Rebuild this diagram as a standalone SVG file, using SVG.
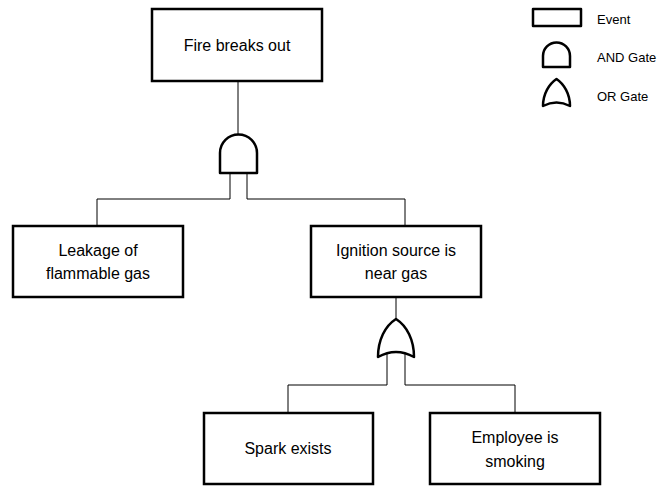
<svg xmlns="http://www.w3.org/2000/svg" width="667" height="488" viewBox="0 0 667 488">
  <style>
    .box { fill: #fff; stroke: #000; stroke-width: 2.5; }
    .gate { fill: #fff; stroke: #000; stroke-width: 2.5; stroke-linejoin: round; }
    .wire { fill: none; stroke: #000; stroke-width: 1; }
    .lbl { font-family: "Liberation Sans", Arial, sans-serif; font-size: 16px; fill: #000; text-anchor: middle; }
    .key { font-family: "Liberation Sans", Arial, sans-serif; font-size: 13px; fill: #000; }
  </style>
  <rect width="667" height="488" fill="#fff"/>

  <!-- connectors -->
  <g id="connectors">
    <path class="wire" d="M238,81 V135"/>
    <path class="wire" d="M230,173 V199 H97 V226"/>
    <path class="wire" d="M247,173 V199 H405 V226"/>
    <path class="wire" d="M396,297 V319"/>
    <path class="wire" d="M387,354 V385 H288 V413"/>
    <path class="wire" d="M405,354 V385 H515 V413"/>
  </g>

  <g id="fire">
    <rect class="box" x="152" y="9" width="170" height="72"/>
    <text class="lbl" x="237" y="51">Fire breaks out</text>
  </g>

  <g id="and-gate">
    <path class="gate" d="M220,173 V153 A18.5,18.5 0 0 1 257,153 V173 Z"/>
  </g>

  <g id="leakage">
    <rect class="box" x="13" y="226" width="170" height="71"/>
    <text class="lbl" x="98" y="256">Leakage of</text>
    <text class="lbl" x="98" y="279">flammable gas</text>
  </g>

  <g id="ignition">
    <rect class="box" x="311" y="226" width="170" height="71"/>
    <text class="lbl" x="396" y="256">Ignition source is</text>
    <text class="lbl" x="396" y="279">near gas</text>
  </g>

  <g id="or-gate">
    <path class="gate" d="M378,357 C378,340 385,326 396,319 C407,326 414,340 414,357 Q396,347 378,357 Z"/>
  </g>

  <g id="spark">
    <rect class="box" x="204" y="413" width="169" height="71"/>
    <text class="lbl" x="288" y="454">Spark exists</text>
  </g>

  <g id="employee">
    <rect class="box" x="430" y="413" width="170" height="71"/>
    <text class="lbl" x="515" y="443">Employee is</text>
    <text class="lbl" x="515" y="467">smoking</text>
  </g>

  <!-- legend -->
  <g id="legend">
    <rect class="gate" x="533" y="9" width="48" height="17"/>
    <text class="key" x="597" y="24">Event</text>
    <path class="gate" d="M543,67 V56 A13.5,13.5 0 0 1 570,56 V67 Z"/>
    <text class="key" x="597" y="62">AND Gate</text>
    <path class="gate" d="M543,106 C543,94 549,84 556.5,79 C564,84 570,94 570,106 Q556.5,99 543,106 Z"/>
    <text class="key" x="597" y="101">OR Gate</text>
  </g>
</svg>
